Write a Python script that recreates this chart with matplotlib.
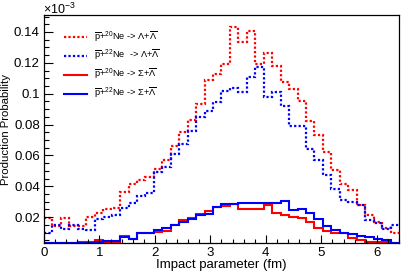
import numpy as np
import matplotlib.pyplot as plt
from matplotlib.ticker import MultipleLocator

plt.rcParams['font.family'] = ['Liberation Sans', 'DejaVu Sans']
plt.rcParams['mathtext.fontset'] = 'custom'
plt.rcParams['mathtext.rm'] = 'Liberation Sans'
plt.rcParams['mathtext.it'] = 'Liberation Sans:italic'

# Impact parameter binning (fm)
b_min, b_max, n_bins = 0.0, 6.4, 42

# Production probability (x 1e-3), one value per bin
lam_ne20 = [0.0195, 0.0142, 0.0197, 0.0142, 0.0142, 0.0202, 0.0226, 0.0255, 0.0261, 0.0363,
            0.0413, 0.0439, 0.0460, 0.0514, 0.0572, 0.0664, 0.0750, 0.0832, 0.0933, 0.1088,
            0.1127, 0.1191, 0.1432, 0.1337, 0.1406, 0.1191, 0.1266, 0.1180, 0.1073, 0.1030,
            0.0955, 0.0826, 0.0729, 0.0621, 0.0503, 0.0417, 0.0374, 0.0277, 0.0213, 0.0170,
            0.0127, 0.0095]
lam_ne22 = [0.0095, 0.0148, 0.0121, 0.0148, 0.0121, 0.0118, 0.0185, 0.0198, 0.0213, 0.0256,
            0.0292, 0.0335, 0.0357, 0.0492, 0.0524, 0.0611, 0.0675, 0.0761, 0.0847, 0.0890,
            0.0944, 0.1015, 0.1039, 0.1008, 0.1105, 0.1170, 0.0976, 0.1008, 0.0922, 0.0793,
            0.0793, 0.0643, 0.0568, 0.0471, 0.0385, 0.0310, 0.0299, 0.0277, 0.0181, 0.0159,
            0.0125, 0.0148]
sig_ne20 = [0.0035, 0.0035, 0.0035, 0.0035, 0.0040, 0.0040, 0.0052, 0.0040, 0.0040, 0.0079,
            0.0058, 0.0095, 0.0095, 0.0105, 0.0110, 0.0148, 0.0180, 0.0195, 0.0220, 0.0241,
            0.0268, 0.0272, 0.0284, 0.0250, 0.0255, 0.0255, 0.0277, 0.0224, 0.0213, 0.0202,
            0.0192, 0.0170, 0.0127, 0.0112, 0.0099, 0.0095, 0.0063, 0.0052, 0.0041, 0.0036,
            0.0036, 0.0033]
sig_ne22 = [0.0033, 0.0033, 0.0033, 0.0033, 0.0033, 0.0033, 0.0037, 0.0047, 0.0047, 0.0073,
            0.0058, 0.0095, 0.0100, 0.0116, 0.0127, 0.0148, 0.0170, 0.0190, 0.0213, 0.0222,
            0.0268, 0.0285, 0.0288, 0.0290, 0.0292, 0.0292, 0.0290, 0.0292, 0.0302, 0.0245,
            0.0250, 0.0224, 0.0185, 0.0140, 0.0118, 0.0100, 0.0092, 0.0080, 0.0073, 0.0055,
            0.0050, 0.0033]

labels = [r'$\overline{\rm p}$+$^{20}$Ne -> $\Lambda$+$\overline{\Lambda}$',
          r'$\overline{\rm p}$+$^{22}$Ne  -> $\Lambda$+$\overline{\Lambda}$',
          r'$\overline{\rm p}$+$^{20}$Ne -> $\Sigma$+$\overline{\Lambda}$',
          r'$\overline{\rm p}$+$^{22}$Ne -> $\Sigma$+$\overline{\Lambda}$']

edges = np.linspace(b_min, b_max, n_bins + 1)

fig = plt.figure(figsize=(4.07, 2.73), dpi=100)
ax = fig.add_axes([0.1081, 0.1099, 0.8722, 0.8351])

dot = (0, (1, 1))
h1 = ax.stairs(lam_ne20, edges, baseline=None, color='#ff0000', lw=1.6, ls=dot)
h2 = ax.stairs(lam_ne22, edges, baseline=None, color='#0000ff', lw=1.6, ls=dot)
h3 = ax.stairs(sig_ne20, edges, baseline=None, color='#ff0000', lw=1.5)
h4 = ax.stairs(sig_ne22, edges, baseline=None, color='#0000ff', lw=1.5)

ax.set_xlim(b_min, b_max)
ax.set_ylim(0.0032, 0.151)

ax.xaxis.set_minor_locator(MultipleLocator(0.2))
ax.yaxis.set_minor_locator(MultipleLocator(0.005))
ax.set_yticks(np.arange(0.02, 0.141, 0.02))
ax.set_yticklabels(['0.02', '0.04', '0.06', '0.08', '0.1', '0.12', '0.14'])
ax.set_xticks(range(0, 7))

ax.tick_params(which='both', direction='in', top=False, right=False, labelsize=9.5,
               width=0.8, colors='black', pad=3)
ax.tick_params(axis='y', which='major', length=6.5)
ax.tick_params(axis='y', which='minor', length=3.5)
ax.tick_params(axis='x', which='major', length=5.5)
ax.tick_params(axis='x', which='minor', length=3)
for s in ax.spines.values():
    s.set_linewidth(0.9)

ax.set_xlabel('Impact parameter (fm)', fontsize=9.5, labelpad=0)
ax.set_ylabel('Production Probability', fontsize=8.2, labelpad=2)
fig.text(0.106, 0.949, r'$\times10^{-3}$', fontsize=9, ha='left', va='baseline')

ax.legend([h1, h2, h3, h4], labels, loc='upper left', bbox_to_anchor=(0.04, 0.962),
          frameon=False, fontsize=6.7, handlelength=2.5, handletextpad=0.8,
          labelspacing=0.4, borderaxespad=0.2)

fig.savefig('out.png', dpi=100)
